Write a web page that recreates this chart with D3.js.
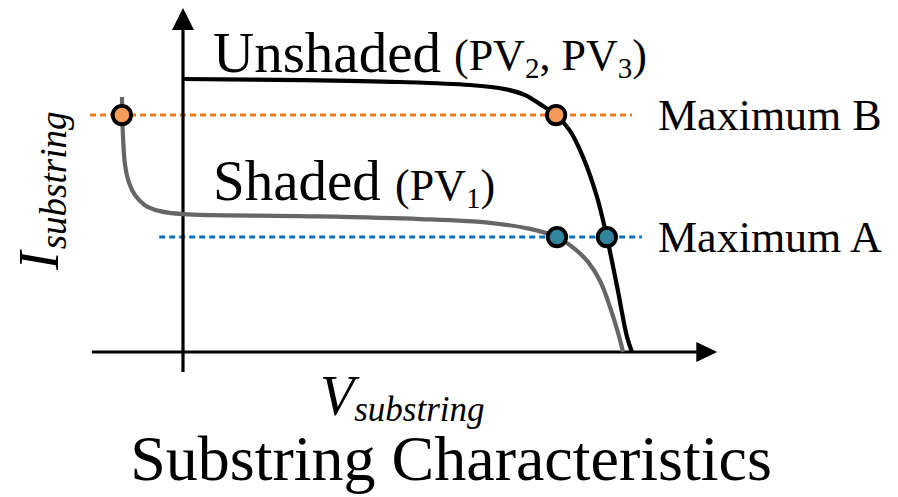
<!DOCTYPE html>
<html>
<head>
<meta charset="utf-8">
<script src="https://cdn.jsdelivr.net/npm/d3@7"></script>
<style>
  html, body { margin: 0; padding: 0; background: #fff; }
  svg { display: block; }
  text { font-family: "Liberation Serif", "Times New Roman", serif; fill: #000; }
</style>
</head>
<body>
<svg id="chart" width="898" height="497"></svg>
<script>
// Normalised I-V characteristics of a PV substring (V and I in per-unit of Voc / Isc)
const unshadedV = [0.000, 0.261, 0.483, 0.639, 0.717, 0.762, 0.795, 0.831, 0.862, 0.891, 0.922, 0.944, 0.967, 0.989, 1.000];
const unshadedI = [1.000, 0.996, 0.989, 0.978, 0.963, 0.941, 0.908, 0.868, 0.810, 0.714, 0.568, 0.421, 0.238, 0.055, 0.000];

const shadedV = [-0.136, -0.134, -0.129, -0.120, -0.107, -0.085, -0.051, 0.000, 0.261, 0.528, 0.684, 0.773, 0.833, 0.873, 0.902, 0.929, 0.951, 0.969, 0.980];
const shadedI = [0.934, 0.802, 0.685, 0.619, 0.575, 0.538, 0.516, 0.505, 0.498, 0.487, 0.473, 0.451, 0.421, 0.377, 0.330, 0.260, 0.165, 0.070, 0.000];

// Operating-point markers
const maxBV = [-0.136, 0.831];
const maxBI = 0.868;
const maxAV = [0.833, 0.944];
const maxAI = 0.421;

// Extents of the reference lines and axes (data units)
const maxBSpan = [-0.207, 1.0];
const maxASpan = [-0.053, 1.022];
const xAxisSpan = [-0.203, 1.19];
const yAxisSpan = [-0.073, 1.26];

const labels = {
  unshaded: "Unshaded",
  shaded: "Shaded",
  maxA: "Maximum A",
  maxB: "Maximum B",
  title: "Substring Characteristics"
};

const svg = d3.select("#chart");

const x = d3.scaleLinear().domain([0, 1]).range([183, 632]);
const y = d3.scaleLinear().domain([0, 1]).range([352, 79]);

const line = d3.line()
  .x(d => x(d[0]))
  .y(d => y(d[1]))
  .curve(d3.curveCatmullRom.alpha(0.5));

// Dotted maximum-power reference lines
svg.append("line")
  .attr("x1", x(maxBSpan[0])).attr("x2", x(maxBSpan[1]))
  .attr("y1", y(maxBI)).attr("y2", y(maxBI))
  .attr("stroke", "#EE7A1C").attr("stroke-width", 3)
  .attr("stroke-dasharray", "6,4");

svg.append("line")
  .attr("x1", x(maxASpan[0])).attr("x2", x(maxASpan[1]))
  .attr("y1", y(maxAI)).attr("y2", y(maxAI))
  .attr("stroke", "#0A70C0").attr("stroke-width", 3)
  .attr("stroke-dasharray", "6,4");

// Axes with arrowheads
const ax = svg.append("g").attr("class", "axes");
const x0 = x(0), y0 = y(0);
const xTip = x(xAxisSpan[1]), yTip = y(yAxisSpan[1]);
ax.append("line")
  .attr("x1", x(xAxisSpan[0])).attr("x2", xTip - 12)
  .attr("y1", y0).attr("y2", y0)
  .attr("stroke", "#000").attr("stroke-width", 3.2);
ax.append("path")
  .attr("d", `M${xTip},${y0} L${xTip - 21},${y0 - 10} L${xTip - 21},${y0 + 10} Z`)
  .attr("fill", "#000");
ax.append("line")
  .attr("x1", x0).attr("x2", x0)
  .attr("y1", y(yAxisSpan[0])).attr("y2", yTip + 14)
  .attr("stroke", "#000").attr("stroke-width", 3.2);
ax.append("path")
  .attr("d", `M${x0},${yTip} L${x0 - 11},${yTip + 22} L${x0 + 11},${yTip + 22} Z`)
  .attr("fill", "#000");

// I-V curves
svg.append("path")
  .datum(d3.zip(shadedV, shadedI))
  .attr("d", line)
  .attr("fill", "none").attr("stroke", "#666666").attr("stroke-width", 4.2);

svg.append("path")
  .datum(d3.zip(unshadedV, unshadedI))
  .attr("d", line)
  .attr("fill", "none").attr("stroke", "#000").attr("stroke-width", 4.2);

// Markers
const markers = [
  ...maxBV.map(v => ({ v, i: maxBI, fill: "#F59B5A" })),
  ...maxAV.map(v => ({ v, i: maxAI, fill: "#31859C" }))
];
svg.selectAll("circle.mp")
  .data(markers)
  .join("circle")
  .attr("class", "mp")
  .attr("cx", d => x(d.v)).attr("cy", d => y(d.i))
  .attr("r", 9.2)
  .attr("fill", d => d.fill)
  .attr("stroke", "#000").attr("stroke-width", 3.8);

// Curve labels
svg.append("text").attr("x", 213).attr("y", 72).attr("font-size", 57).text(labels.unshaded);
const p1 = svg.append("text").attr("x", 454).attr("y", 70).attr("font-size", 44);
p1.append("tspan").text("(PV");
p1.append("tspan").attr("font-size", 29).attr("dy", 8).text("2");
p1.append("tspan").attr("dy", -8).text(", PV");
p1.append("tspan").attr("font-size", 29).attr("dy", 8).text("3");
p1.append("tspan").attr("dy", -8).text(")");

svg.append("text").attr("x", 213).attr("y", 200).attr("font-size", 57).text(labels.shaded);
const p2 = svg.append("text").attr("x", 395).attr("y", 200).attr("font-size", 44);
p2.append("tspan").text("(PV");
p2.append("tspan").attr("font-size", 29).attr("dy", 8).text("1");
p2.append("tspan").attr("dy", -8).text(")");

svg.append("text").attr("x", 658).attr("y", 130).attr("font-size", 44).text(labels.maxB);
svg.append("text").attr("x", 658).attr("y", 252).attr("font-size", 44).text(labels.maxA);

// Axis titles
const xl = svg.append("text").attr("x", 320).attr("y", 415).attr("font-style", "italic").attr("font-size", 56);
xl.append("tspan").text("V");
xl.append("tspan").attr("font-size", 35).attr("dy", 6).text("substring");

const yl = svg.append("text")
  .attr("transform", "translate(58,270) rotate(-90)")
  .attr("font-style", "italic").attr("font-size", 56);
yl.append("tspan").text("I");
yl.append("tspan").attr("font-size", 37).attr("dy", 8).attr("dx", 2).text("substring");

// Title
svg.append("text").attr("x", 451).attr("y", 480).attr("text-anchor", "middle")
  .attr("font-size", 64).text(labels.title);
</script>
</body>
</html>
